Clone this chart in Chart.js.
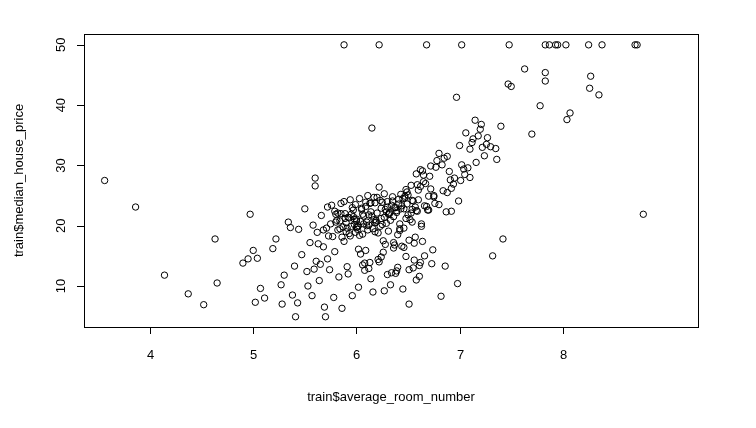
<!DOCTYPE html>
<html>
<head>
<meta charset="utf-8">
<script src="https://cdn.jsdelivr.net/npm/chart.js@4.4.1/dist/chart.umd.min.js"></script>
<style>
  html, body { margin: 0; padding: 0; background: #fff; }
  #wrap { width: 756px; height: 428px; }
</style>
</head>
<body>
<div id="wrap"><canvas id="scatter" width="756" height="428"></canvas></div>
<script>
var roomNumber = [
  5.88, 6.22, 6.68, 7.02, 7.48, 7.83, 7.87, 7.93, 7.95, 8.03, 8.25, 8.38, 8.70, 8.72,
  3.56, 3.86, 4.14, 4.37, 4.52, 4.63, 4.65, 4.90, 4.95, 4.97, 5.00, 5.02, 5.04, 5.07,
  5.11, 5.19, 5.22, 5.27, 5.28, 5.30, 5.34, 5.36, 5.38, 5.40, 5.41, 5.44, 5.43, 5.47,
  5.50, 5.52, 5.55, 5.57, 5.58, 5.60, 5.60, 5.61, 5.62, 5.64, 5.66, 5.68, 5.70, 5.71,
  5.72, 5.74, 5.75, 5.77, 5.78, 5.79, 5.80, 5.82, 5.83, 5.84, 5.85, 5.86, 5.87, 5.88,
  5.89, 5.90, 5.91, 5.92, 5.93, 5.94, 5.95, 5.96, 5.97, 5.98, 5.99, 6.00, 6.01, 6.02,
  6.03, 6.04, 6.05, 6.06, 6.07, 6.08, 6.09, 6.10, 6.11, 6.12, 6.13, 6.14, 6.15, 6.16,
  6.17, 6.18, 6.19, 6.20, 6.21, 6.22, 6.23, 6.24, 6.25, 6.26, 6.27, 6.28, 6.29, 6.30,
  6.31, 6.32, 6.33, 6.34, 6.35, 6.36, 6.37, 6.38, 6.39, 6.40, 6.41, 6.42, 6.43, 6.44,
  6.45, 6.46, 6.47, 6.48, 6.49, 6.50, 6.51, 6.52, 6.53, 6.54, 6.55, 6.56, 6.57, 6.58,
  6.59, 6.60, 6.61, 6.62, 6.63, 6.64, 6.65, 6.66, 6.67, 6.69, 6.70, 6.72, 6.74, 6.76,
  6.78, 6.80, 6.82, 6.84, 6.86, 6.88, 6.90, 6.92, 6.95, 6.97, 6.98, 7.00, 7.02, 7.05,
  7.08, 7.10, 7.12, 7.15, 7.18, 7.20, 7.24, 7.27, 7.30, 7.32, 7.36, 7.40, 7.42, 7.47,
  7.50, 7.63, 7.70, 7.78, 7.83, 7.83, 8.04, 8.07, 8.26, 8.27, 8.35, 8.78,
  5.63, 5.68, 5.72, 5.80, 5.85, 5.90, 5.93, 5.96, 6.00, 6.03, 6.06, 6.09, 6.12, 6.15,
  6.18, 6.21, 6.24, 6.27, 6.30, 6.33, 6.36, 6.39, 6.42, 6.45, 6.48, 6.51, 6.54, 6.57,
  6.60, 6.63, 6.66, 6.70, 6.75, 6.80, 5.95, 6.02, 6.08, 6.14, 6.20, 6.26, 6.32, 6.38,
  6.44, 6.50, 6.56, 6.62, 5.76, 5.82, 5.88, 5.94, 6.00, 6.06, 6.12, 6.18, 6.24, 6.30,
  6.36, 6.42, 6.48, 6.55, 6.62, 6.68, 6.75, 6.85, 6.92, 7.01, 7.10, 7.16, 7.22, 6.88,
  6.94, 7.06, 6.10, 6.25, 6.40, 6.58, 6.72, 5.98, 6.04, 6.16, 6.28, 6.46, 6.54, 6.64,
  5.81, 5.86, 5.91, 5.97, 6.01, 6.05, 6.11, 6.17, 6.23, 6.29, 6.35, 6.41, 6.47, 6.53,
  5.84, 5.89, 5.99, 6.07, 6.13, 6.19, 6.31, 6.37, 6.43, 6.49, 6.59, 6.65, 6.71, 6.77,
  5.65, 5.73, 5.79, 5.92, 6.02, 6.14, 6.22, 6.34, 6.46, 6.58, 6.83, 6.91, 6.99, 7.04,
  5.53, 5.59, 5.69, 6.09, 6.27, 6.39, 6.51, 6.61, 6.73, 6.87, 7.13, 7.26, 7.35, 7.21
];
var housePrice = [
  50, 50, 50, 50, 50, 50, 50, 50, 50, 50, 50, 50, 50, 50,
  27.5, 23.1, 11.8, 8.7, 6.9, 17.8, 10.5, 13.8, 14.5, 21.9, 15.9, 7.3, 14.6, 9.6,
  8.0, 16.2, 17.8, 10.2, 7.0, 11.8, 20.6, 19.7, 8.5, 13.3, 4.9, 19.4, 7.2, 15.2,
  22.8, 12.4, 17.2, 8.4, 20.1, 27.9, 26.6, 14.1, 18.9, 10.9, 21.7, 16.5, 4.9, 19.6,
  23.1, 12.7, 20.3, 18.2, 8.1, 22.4, 21.9, 19.3, 11.5, 20.8, 23.7, 6.3, 19.8, 17.4,
  22.0, 20.5, 13.2, 21.4, 18.7, 24.3, 19.9, 8.4, 22.6, 20.2, 23.5, 21.1, 19.4, 16.1,
  24.5, 20.7, 22.9, 18.6, 21.6, 12.6, 23.2, 20.0, 25.0, 21.8, 13.9, 22.3, 36.2, 19.5,
  24.7, 23.8, 20.9, 22.1, 14.4, 26.4, 24.2, 21.2, 23.9, 17.5, 25.3, 22.7, 20.4, 24.0,
  19.1, 22.2, 10.2, 23.4, 24.8, 21.5, 16.8, 23.0, 22.5, 13.1, 24.4, 19.2, 25.2, 23.3,
  9.5, 22.8, 24.6, 14.9, 23.6, 25.1, 7.0, 21.0, 26.7, 20.6, 24.1, 17.1, 23.1, 28.6,
  22.4, 25.9, 13.4, 26.5, 20.3, 29.1, 28.4, 15.0, 27.0, 22.6, 24.9, 29.9, 16.0, 23.7,
  30.8, 32.0, 8.3, 25.8, 13.3, 31.5, 29.0, 26.2, 27.9, 41.3, 10.4, 33.3, 30.1, 28.5,
  29.6, 32.7, 33.8, 37.5, 34.9, 36.0, 31.6, 34.6, 33.1, 15.0, 31.0, 36.5, 17.8, 43.5,
  43.1, 46.0, 35.2, 39.9, 45.4, 44.0, 37.6, 38.7, 42.8, 44.8, 41.7, 21.9,
  17.0, 19.3, 14.5, 20.6, 22.0, 19.0, 21.3, 23.0, 20.8, 18.4, 21.9, 23.9, 20.1, 21.6,
  20.5, 18.8, 22.9, 21.4, 23.1, 20.9, 17.2, 22.2, 19.5, 24.5, 21.2, 12.7, 22.7, 18.1,
  24.3, 19.9, 23.3, 22.6, 25.0, 23.5, 21.9, 20.0, 13.8, 23.8, 24.7, 15.6, 22.0, 12.1,
  16.6, 21.8, 14.3, 13.9, 23.4, 22.1, 24.0, 18.3, 19.7, 13.5, 12.9, 19.0, 14.8, 11.9,
  16.3, 20.3, 26.0, 13.0, 29.3, 23.2, 24.8, 31.2, 22.4, 27.5, 28.0, 30.5, 33.0, 25.5,
  26.9, 35.4, 20.6, 20.2, 18.5, 22.5, 26.1, 21.1, 15.3, 9.0, 16.9, 19.6, 24.2, 17.4,
  20.9, 18.1, 19.6, 21.5, 19.8, 22.7, 19.3, 21.0, 19.9, 22.3, 24.1, 23.6, 24.9, 22.1,
  19.5, 21.2, 18.9, 20.3, 23.7, 20.6, 21.9, 23.0, 22.8, 25.6, 26.8, 27.3, 28.2, 29.7,
  13.6, 18.3, 15.7, 12.0, 9.8, 11.2, 14.0, 12.2, 16.4, 11.0, 30.1, 27.6, 24.1, 29.4,
  10.0, 12.8, 6.5, 15.9, 9.2, 12.5, 17.6, 11.6, 13.7, 22.3, 34.4, 33.5, 32.8, 36.8
];
var xTicks = [4, 5, 6, 7, 8];
var yTicks = [10, 20, 30, 40, 50];

var points = roomNumber.map(function (x, i) { return { x: x, y: housePrice[i] }; });

var rAxes = {
  id: 'rAxes',
  afterDraw: function (chart) {
    var ctx = chart.ctx, a = chart.chartArea;
    var sx = chart.scales.x, sy = chart.scales.y;
    ctx.save();
    ctx.strokeStyle = '#000';
    ctx.lineWidth = 1;
    ctx.strokeRect(a.left + 0.5, a.top + 0.5, a.right - a.left, a.bottom - a.top);
    ctx.fillStyle = '#000';
    ctx.font = '13px "Liberation Sans", Arial, sans-serif';
    ctx.textAlign = 'center';
    ctx.textBaseline = 'top';
    ctx.beginPath();
    xTicks.forEach(function (t) {
      var px = Math.round(sx.getPixelForValue(t)) + 0.5;
      ctx.moveTo(px, a.bottom); ctx.lineTo(px, a.bottom + 7);
      ctx.fillText(String(t), px, a.bottom + 22);
    });
    yTicks.forEach(function (t) {
      var py = Math.round(sy.getPixelForValue(t)) + 0.5;
      ctx.moveTo(a.left, py); ctx.lineTo(a.left - 7, py);
    });
    ctx.stroke();
    yTicks.forEach(function (t) {
      var py = sy.getPixelForValue(t);
      ctx.save();
      ctx.translate(a.left - 16, py);
      ctx.rotate(-Math.PI / 2);
      ctx.textBaseline = 'bottom';
      ctx.fillText(String(t), 0, 0);
      ctx.restore();
    });
    ctx.fillText('train$average_room_number', (a.left + a.right) / 2, a.bottom + 64);
    ctx.save();
    ctx.translate(a.left - 58, (a.top + a.bottom) / 2);
    ctx.rotate(-Math.PI / 2);
    ctx.textBaseline = 'bottom';
    ctx.fillText('train$median_house_price', 0, 0);
    ctx.restore();
    ctx.restore();
  }
};

new Chart(document.getElementById('scatter'), {
  type: 'scatter',
  data: {
    datasets: [{
      data: points,
      borderColor: '#000',
      backgroundColor: 'rgba(0,0,0,0)',
      borderWidth: 1,
      pointRadius: 3.2,
      pointHoverRadius: 3.2
    }]
  },
  options: {
    responsive: false,
    animation: false,
    layout: { padding: { left: 84, right: 58, top: 34, bottom: 101 } },
    plugins: { legend: { display: false }, tooltip: { enabled: false } },
    scales: {
      x: { type: 'linear', min: 3.36, max: 9.31, display: false },
      y: { type: 'linear', min: 3.2, max: 51.8, display: false }
    }
  },
  plugins: [rAxes]
});
</script>
</body>
</html>
